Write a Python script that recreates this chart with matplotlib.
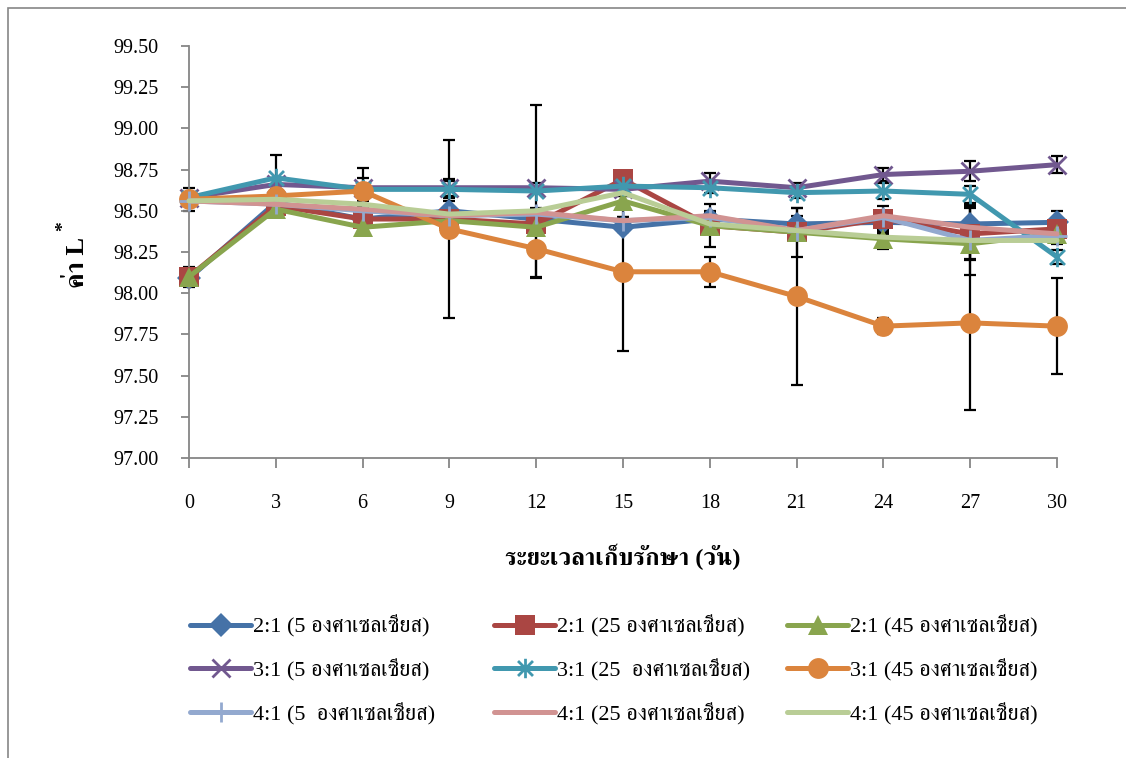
import matplotlib
matplotlib.use('Agg')
import matplotlib.pyplot as plt
from matplotlib.path import Path
from matplotlib.patches import Rectangle
from matplotlib import font_manager as fm

# ---------------- data ----------------
days = [0, 3, 6, 9, 12, 15, 18, 21, 24, 27, 30]
y_ticks = [97.00, 97.25, 97.50, 97.75, 98.00, 98.25, 98.50, 98.75, 99.00, 99.25, 99.50]

labels = [
    "2:1 (5 องศาเซลเซียส)",
    "2:1 (25 องศาเซลเซียส)",
    "2:1 (45 องศาเซลเซียส)",
    "3:1 (5 องศาเซลเซียส)",
    "3:1 (25  องศาเซลเซียส)",
    "3:1 (45 องศาเซลเซียส)",
    "4:1 (5  องศาเซลเซียส)",
    "4:1 (25 องศาเซลเซียส)",
    "4:1 (45 องศาเซลเซียส)",
]

r21_5 = [98.09, 98.55, 98.45, 98.50, 98.45, 98.40, 98.45, 98.42, 98.43, 98.42, 98.43]
r21_25 = [98.10, 98.53, 98.45, 98.45, 98.42, 98.69, 98.41, 98.37, 98.45, 98.36, 98.39]
r21_45 = [98.10, 98.51, 98.40, 98.44, 98.40, 98.56, 98.41, 98.37, 98.33, 98.30, 98.36]
r31_5 = [98.58, 98.66, 98.64, 98.64, 98.64, 98.63, 98.68, 98.64, 98.72, 98.74, 98.78]
r31_25 = [98.58, 98.70, 98.63, 98.63, 98.62, 98.65, 98.64, 98.61, 98.62, 98.60, 98.22]
r31_45 = [98.57, 98.59, 98.62, 98.39, 98.27, 98.13, 98.13, 97.98, 97.80, 97.82, 97.80]
r41_5 = [98.56, 98.54, 98.50, 98.47, 98.48, 98.44, 98.46, 98.38, 98.46, 98.32, 98.35]
r41_25 = [98.56, 98.54, 98.51, 98.47, 98.49, 98.44, 98.47, 98.38, 98.47, 98.40, 98.36]
r41_45 = [98.56, 98.57, 98.54, 98.48, 98.50, 98.61, 98.42, 98.38, 98.34, 98.32, 98.32]

e21_5 = [0.03, 0.03, 0.03, 0.06, 0.03, 0.03, 0.05, 0.05, 0.05, 0.12, 0.07]
e21_25 = [0.06, 0.03, 0.04, 0.03, 0.03, 0.03, 0.13, 0.15, 0.08, 0.16, 0.05]
e21_45 = [0.04, 0.03, 0.03, 0.03, 0.03, 0.03, 0.05, 0.03, 0.06, 0.09, 0.05]
e31_5 = [0.02, 0.03, 0.06, 0.05, 0.03, 0.03, 0.05, 0.03, 0.04, 0.06, 0.05]
e31_25 = [0.02, 0.14, 0.03, 0.05, 0.52, 0.03, 0.03, 0.03, 0.05, 0.05, 0.04]
e31_45 = [0.07, 0.03, 0.14, 0.54, 0.18, 0.48, 0.09, 0.54, 0.05, 0.53, 0.29]
e41_5 = [0.02, 0.02, 0.02, 0.02, 0.02, 0.02, 0.02, 0.02, 0.02, 0.21, 0.02]
e41_25 = [0.02, 0.02, 0.02, 0.02, 0.02, 0.02, 0.02, 0.02, 0.02, 0.02, 0.02]
e41_45 = [0.02, 0.02, 0.02, 0.02, 0.02, 0.02, 0.02, 0.02, 0.02, 0.02, 0.02]

values = [r21_5, r21_25, r21_45, r31_5, r31_25, r31_45, r41_5, r41_25, r41_45]
errors = [e21_5, e21_25, e21_45, e31_5, e31_25, e31_45, e41_5, e41_25, e41_45]

colors = ['#4572A7', '#AA4643', '#89A54E', '#71588F', '#4198AF',
          '#DB843D', '#93A9CF', '#D19392', '#B9CD96']

# ---------------- fonts ----------------
def find_thai_fonts():
    fams = []
    try:
        from fontTools.ttLib import TTFont
    except Exception:
        return fams
    for f in fm.fontManager.ttflist:
        if 'CJK' in f.name or f.name in fams:
            continue
        try:
            tt = TTFont(f.fname, fontNumber=0, lazy=True)
            cmap = tt.getBestCmap()
            if cmap and 0x0E2D in cmap and 0x0E40 in cmap:
                fams.append(f.name)
        except Exception:
            pass
    fams.sort(key=lambda n: (0 if 'Serif' in n else 1, n))
    return fams

thai = find_thai_fonts()
FAM = ['Liberation Serif'] + thai + ['DejaVu Serif', 'DejaVu Sans']
plt.rcParams['font.family'] = FAM

# ---------------- markers ----------------
asterisk = Path([(-1, -1), (1, 1), (-1, 1), (1, -1), (0, -1.3), (0, 1.3)],
                [Path.MOVETO, Path.LINETO, Path.MOVETO, Path.LINETO, Path.MOVETO, Path.LINETO])

styles = [
    dict(marker='D', ms=12, mew=0),
    dict(marker='s', ms=14, mew=0),
    dict(marker='^', ms=15, mew=0),
    dict(marker='x', ms=13, mew=2),
    dict(marker=asterisk, ms=14, mew=2, mfc='none'),
    dict(marker='o', ms=15, mew=0),
    dict(marker='+', ms=14, mew=2),
    dict(marker='None'),
    dict(marker='None'),
]

W, H = 1126, 758
fig = plt.figure(figsize=(W / 100, H / 100), dpi=100)
ax = fig.add_axes([189 / W, 1 - 458 / H, (1057 - 189) / W, (458 - 46) / H])

gray = '#868686'

# error bars below lines
for v, e in zip(values, errors):
    ax.errorbar(days, v, yerr=e, fmt='none', ecolor='black', elinewidth=1.6,
                capsize=4.5, capthick=1.6, zorder=1, clip_on=False)

handles = []
for i, (v, c, st) in enumerate(zip(values, colors, styles)):
    kw = dict(st)
    line, = ax.plot(days, v, color=c, lw=3.6, mec=c,
                    mfc=kw.pop('mfc', c), zorder=2 + i, clip_on=False,
                    solid_capstyle='round', solid_joinstyle='round', **kw)
    handles.append(line)

ax.set_xlim(0, 30)
ax.set_ylim(97.0, 99.5)
ax.set_xticks(days)
ax.set_xticklabels([str(d) for d in days])
ax.set_yticks(y_ticks)
ax.set_yticklabels([f'{t:.2f}' for t in y_ticks])

for s in ['top', 'right']:
    ax.spines[s].set_visible(False)
for s in ['left', 'bottom']:
    ax.spines[s].set_color(gray)
    ax.spines[s].set_linewidth(1.3)

ax.tick_params(axis='y', direction='out', length=6, width=1.3, color=gray,
               pad=16, labelsize=14.5, labelcolor='black')
ax.tick_params(axis='x', direction='out', length=7, width=1.3, color=gray,
               pad=19, labelsize=14.5, labelcolor='black')

# axis titles
fig.text(78 / W, 1 - 262 / H, 'ค่า L', rotation=90, ha='center', va='center',
         fontsize=19, fontweight='bold', family=FAM)
fig.text(64 / W, 1 - 226 / H, '*', rotation=90, ha='center', va='center',
         fontsize=14, fontweight='bold', family=FAM)
fig.text(623 / W, 1 - 557 / H, 'ระยะเวลาเก็บรักษา (วัน)', ha='center', va='center',
         fontsize=17.5, fontweight='bold', family=FAM)

# legend: three columns
col_x = [190, 494, 787]
for ci in range(3):
    idx = [ci, ci + 3, ci + 6]
    hs = [handles[k] for k in idx]
    ls = [labels[k] for k in idx]
    fig.legend(hs, ls, loc='upper left',
               bbox_to_anchor=(col_x[ci] / W, 1 - 615 / H),
               frameon=False, handlelength=2.75, handletextpad=0.1,
               borderpad=0, borderaxespad=0, labelspacing=0.97,
               prop={'family': FAM, 'size': 16})

# outer chart border
fig.add_artist(Rectangle((8 / W, -0.02), 1.2, (H - 8) / H + 0.02,
                         transform=fig.transFigure, fill=False,
                         edgecolor=gray, lw=1.2))

fig.savefig('out.png', dpi=100)
